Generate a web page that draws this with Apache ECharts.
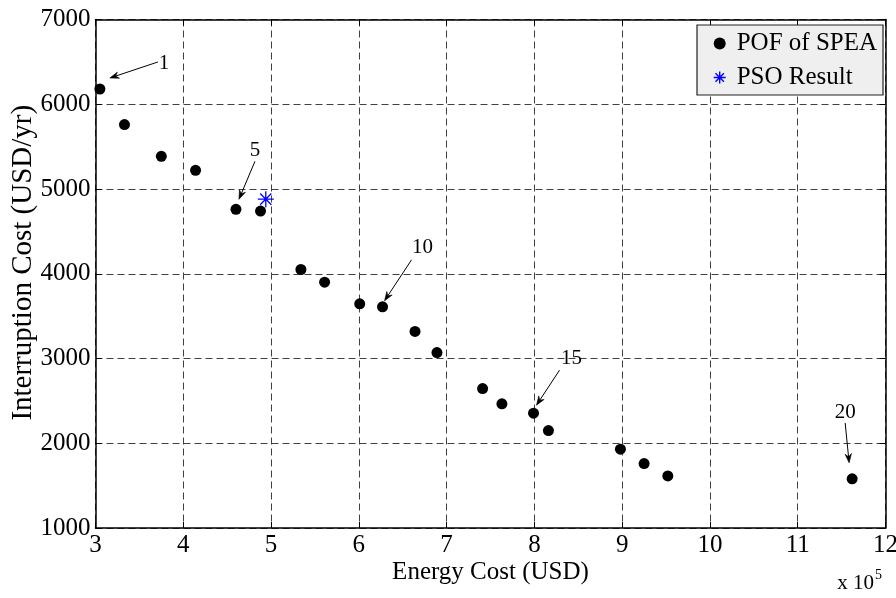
<!DOCTYPE html>
<html>
<head>
<meta charset="utf-8">
<script src="https://cdn.jsdelivr.net/npm/echarts@6/dist/echarts.min.js"></script>
<style>
  html, body { margin: 0; padding: 0; background: #ffffff; }
  #chart { width: 896px; height: 598px; }
</style>
</head>
<body>
<div id="chart"></div>
<script>
// Pareto-optimal front found by SPEA (energy cost in units of 10^5 USD)
const energyCost = [3.05, 3.33, 3.75, 4.14, 4.60, 4.88, 5.34, 5.61, 6.01, 6.27,
                    6.64, 6.89, 7.41, 7.63, 7.99, 8.16, 8.98, 9.25, 9.52, 11.62];
const interruptionCost = [6180, 5760, 5385, 5220, 4760, 4740, 4050, 3900, 3645, 3610,
                          3320, 3070, 2645, 2465, 2355, 2150, 1930, 1760, 1615, 1580];

// Single solution obtained with PSO
const psoEnergyCost = [4.94];
const psoInterruptionCost = [4880];

// Solution numbers that carry an arrow annotation
const annotatedPoints = [1, 5, 10, 15, 20];

const seriesNames = ['POF of SPEA', 'PSO Result'];
const xAxisName = 'Energy Cost (USD)';
const yAxisName = 'Interruption Cost (USD/yr)';

const FONT = '"Liberation Serif", "Times New Roman", serif';

// Arrow layout per annotated point, in pixels relative to the marker:
// text centre, arrow tail, arrow tip
const arrowLayout = {
  1:  { text: [64, -26], tail: [58, -27], tip: [10, -11] },
  5:  { text: [19, -59], tail: [19, -48], tip: [3, -10] },
  10: { text: [40, -59], tail: [29, -47], tip: [2, -6] },
  15: { text: [38, -55], tail: [26, -43], tip: [3, -8] },
  20: { text: [-7, -66], tail: [-7, -56], tip: [-3, -16] }
};

const asterisk = 'path://M0,-10L0,10M-10,0L10,0M-7,-7L7,7M-7,7L7,-7';

const gridStyle = { show: true, lineStyle: { color: '#404040', type: [7, 4], width: 1 } };
const frameLine = { show: true, onZero: false, lineStyle: { color: '#000', width: 1.5 } };
const innerTick = { show: true, inside: true, length: 6, lineStyle: { color: '#000' } };
const plainNumber = v => String(v);

const chart = echarts.init(document.getElementById('chart'), null, { renderer: 'canvas' });

const option = {
  animation: false,
  backgroundColor: '#ffffff',
  grid: { left: 95.5, right: 10.5, top: 19.5, bottom: 70, containLabel: false, outerBoundsMode: 'none' },
  xAxis: [{
    type: 'value', min: 3, max: 12, interval: 1, position: 'bottom',
    name: xAxisName, nameLocation: 'middle', nameGap: 32, nameMoveOverlap: false,
    nameTextStyle: { fontFamily: FONT, fontSize: 25, color: '#000' },
    axisLine: frameLine, axisTick: innerTick, splitLine: gridStyle,
    axisLabel: { fontFamily: FONT, fontSize: 25, color: '#000', margin: 5, formatter: plainNumber }
  }, {
    type: 'value', min: 3, max: 12, interval: 1, position: 'top',
    axisLine: frameLine, axisTick: innerTick, splitLine: { show: false },
    axisLabel: { show: false }
  }],
  yAxis: [{
    type: 'value', min: 1000, max: 7000, interval: 1000, position: 'left',
    name: yAxisName, nameLocation: 'middle', nameGap: 58, nameMoveOverlap: false,
    nameTextStyle: { fontFamily: FONT, fontSize: 29, color: '#000', padding: [0, 0, 0, 22] },
    axisLine: frameLine, axisTick: innerTick, splitLine: gridStyle,
    axisLabel: { fontFamily: FONT, fontSize: 25, color: '#000', margin: 5, formatter: plainNumber }
  }, {
    type: 'value', min: 1000, max: 7000, interval: 1000, position: 'right',
    axisLine: frameLine, axisTick: innerTick, splitLine: { show: false },
    axisLabel: { show: false }
  }],
  legend: {
    orient: 'vertical', left: 697, top: 25,
    padding: [6, 6, 5, 16], itemGap: 9,
    itemWidth: 24, itemHeight: 12,
    backgroundColor: '#efefef', borderColor: '#222', borderWidth: 1.2,
    textStyle: { fontFamily: FONT, fontSize: 25, color: '#000' },
    data: [
      { name: seriesNames[0], icon: 'circle' },
      { name: seriesNames[1], icon: asterisk, itemStyle: { color: 'transparent', borderColor: '#0000ff', borderWidth: 1.4 } }
    ]
  },
  series: [{
    name: seriesNames[0], type: 'scatter', xAxisIndex: 0, yAxisIndex: 0,
    symbol: 'circle', symbolSize: 11,
    itemStyle: { color: '#000', opacity: 1 },
    data: energyCost.map((x, i) => [x, interruptionCost[i]])
  }, {
    name: seriesNames[1], type: 'scatter', xAxisIndex: 0, yAxisIndex: 0,
    symbol: asterisk, symbolSize: 16, z: 3,
    itemStyle: { color: 'transparent', borderColor: '#0000ff', borderWidth: 1.3, opacity: 1 },
    data: psoEnergyCost.map((x, i) => [x, psoInterruptionCost[i]])
  }]
};

chart.setOption(option);

// Arrow annotations placed relative to the markers' pixel positions
function arrowElements(n) {
  const idx = n - 1;
  const p = chart.convertToPixel({ xAxisIndex: 0, yAxisIndex: 0 }, [energyCost[idx], interruptionCost[idx]]);
  const L = arrowLayout[n];
  const tail = [p[0] + L.tail[0], p[1] + L.tail[1]];
  const tip = [p[0] + L.tip[0], p[1] + L.tip[1]];
  const dx = tip[0] - tail[0], dy = tip[1] - tail[1];
  const len = Math.hypot(dx, dy);
  const ux = dx / len, uy = dy / len;
  const head = 9, half = 3.2;
  const bx = tip[0] - ux * head, by = tip[1] - uy * head;
  const nx = -uy, ny = ux;
  return [
    { type: 'line', silent: true, z: 10,
      shape: { x1: tail[0], y1: tail[1], x2: bx + ux * 3, y2: by + uy * 3 },
      style: { stroke: '#000', lineWidth: 1 } },
    { type: 'polygon', silent: true, z: 10,
      shape: { points: [tip, [bx + nx * half, by + ny * half], [bx + ux * 3, by + uy * 3], [bx - nx * half, by - ny * half]] },
      style: { fill: '#000', stroke: '#000', lineWidth: 0.6 } },
    { type: 'text', silent: true, z: 10,
      x: p[0] + L.text[0], y: p[1] + L.text[1],
      style: { text: String(n), font: '21px ' + FONT, fill: '#000', align: 'center', verticalAlign: 'middle' } }
  ];
}

const graphics = [];
annotatedPoints.forEach(n => graphics.push(...arrowElements(n)));

// Axis multiplier under the right end of the x axis
graphics.push({
  type: 'text', silent: true, right: 14, bottom: 4,
  style: {
    text: '{b|x 10}{s|5}',
    rich: {
      b: { font: '21px ' + FONT, fill: '#000', verticalAlign: 'bottom' },
      s: { font: '14px ' + FONT, fill: '#000', padding: [0, 0, 12, 1], verticalAlign: 'bottom' }
    }
  }
});

chart.setOption({ graphic: graphics });
</script>
</body>
</html>
